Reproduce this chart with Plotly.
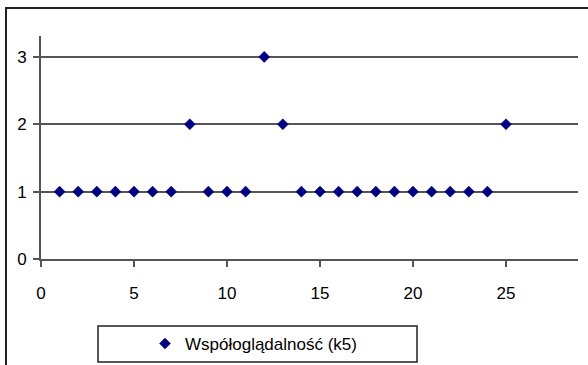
import plotly.graph_objects as go

x_vals = list(range(1, 26))
y_vals = [1, 1, 1, 1, 1, 1, 1, 2, 1, 1, 1, 3, 2, 1, 1, 1, 1, 1, 1, 1, 1, 1, 1, 1, 2]
series_name = "Współoglądalność (k5)"
x_ticks = [0, 5, 10, 15, 20, 25]
y_ticks = [0, 1, 2, 3]

W, H = 588, 365
L, R, T, B = 41, 10, 36, 106
pw, ph = W - L - R, H - T - B

font = dict(family="Liberation Sans, Arial", size=17, color="#000000")

fig = go.Figure()
fig.add_trace(go.Scatter(
    x=x_vals, y=y_vals, mode="markers", name=series_name,
    marker=dict(symbol="diamond", size=8.5, color="#000080",
                line=dict(width=0.5, color="#000080")),
))

def px_x(p):
    return (p - L) / pw

def px_y(p):
    return (H - B - p) / ph

fig.update_layout(
    width=W, height=H,
    margin=dict(l=L, r=R, t=T, b=B, autoexpand=False),
    paper_bgcolor="white", plot_bgcolor="white",
    font=font,
    showlegend=True,
    legend=dict(x=px_x(145), y=px_y(344), xanchor="left", yanchor="middle",
                bgcolor="rgba(0,0,0,0)", borderwidth=0, font=font),
    xaxis=dict(range=[0, 28.87], tickvals=x_ticks, showgrid=False, zeroline=False,
               showline=True, linecolor="#555555", linewidth=2,
               ticks="outside", ticklen=6, tickwidth=1.5, tickcolor="#555555",
               ticklabelstandoff=12),
    yaxis=dict(range=[0, 3.31], tickvals=y_ticks, showgrid=True, gridcolor="#555555",
               gridwidth=2, zeroline=False,
               showline=True, linecolor="#555555", linewidth=2,
               ticks="outside", ticklen=6, tickwidth=1.5, tickcolor="#555555",
               ticklabelstandoff=3),
    shapes=[
        dict(type="rect", xref="paper", yref="paper",
             x0=px_x(6), x1=px_x(640), y0=px_y(400), y1=px_y(8),
             line=dict(color="#222222", width=2), layer="below"),
        dict(type="rect", xref="paper", yref="paper",
             x0=px_x(98), x1=px_x(417), y0=px_y(362), y1=px_y(326),
             line=dict(color="#222222", width=1.5), layer="below"),
    ],
)

fig.write_html("out.html")
